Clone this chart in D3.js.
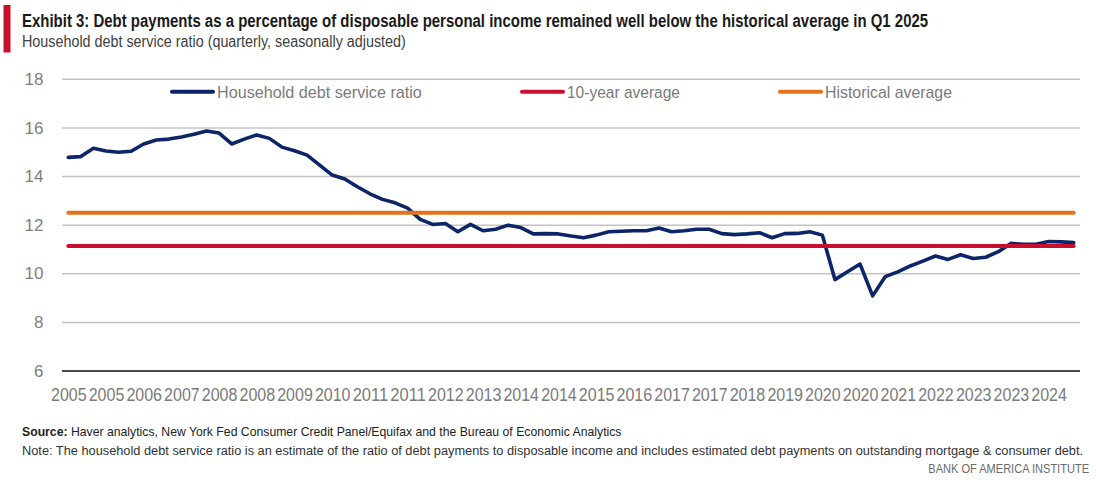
<!DOCTYPE html>
<html>
<head>
<meta charset="utf-8">
<script src="https://cdn.jsdelivr.net/npm/d3@7"></script>
<style>
  html, body { margin: 0; padding: 0; background: #fff; }
  svg { display: block; font-family: "Liberation Sans", Arial, sans-serif; }
</style>
</head>
<body>
<svg id="chart" width="1096" height="480"></svg>
<script>
// ---- Data ----
const startYear = 2005;
const quarters = [];
for (let i = 0; i < 81; i++) {
  quarters.push((startYear + Math.floor(i / 4)) + "Q" + (i % 4 + 1));
}
const debtServiceRatio = [
  14.79, 14.82, 15.16, 15.05, 15.00, 15.04, 15.34, 15.50, 15.54, 15.63,
  15.74, 15.87, 15.79, 15.34, 15.54, 15.71, 15.57, 15.21, 15.06, 14.88,
  14.47, 14.06, 13.90, 13.58, 13.29, 13.06, 12.92, 12.70, 12.24, 12.03,
  12.07, 11.73, 12.03, 11.77, 11.83, 12.00, 11.90, 11.64, 11.65, 11.64,
  11.55, 11.48, 11.59, 11.73, 11.75, 11.77, 11.77, 11.88, 11.73, 11.77,
  11.83, 11.83, 11.65, 11.61, 11.64, 11.69, 11.48, 11.65, 11.66, 11.73,
  11.59, 9.76, 10.08, 10.40, 9.09, 9.88, 10.08, 10.32, 10.52, 10.73,
  10.59, 10.78, 10.63, 10.68, 10.91, 11.25, 11.21, 11.21, 11.33, 11.31,
  11.28
];
const tenYearAverage = 11.14;
const historicalAverage = 12.51;
const xTickLabels = ["2005","2005","2006","2007","2008","2008","2009","2010","2011","2011",
  "2012","2013","2014","2014","2015","2016","2017","2017","2018","2019",
  "2020","2020","2021","2022","2023","2023","2024"];
const yTicks = [6, 8, 10, 12, 14, 16, 18];
const seriesNames = ["Household debt service ratio", "10-year average", "Historical average"];
const colors = { navy: "#0c2468", red: "#c8102e", orange: "#e4731c" };

(function () {
const svg = d3.select("#chart");
const plotLeft = 62, plotRight = 1080, plotTop = 79.3, plotBottom = 371;

const x = d3.scalePoint().domain(quarters).range([plotLeft, plotRight]).padding(0.5);
const y = d3.scaleLinear().domain([6, 18]).range([plotBottom, plotTop]);

// squeeze a text horizontally to a target width (condensed look)
function fit(sel, tx, ty, target) {
  sel.attr("x", 0).attr("y", 0);
  const w = sel.node().getComputedTextLength();
  const s = target / w;
  sel.attr("transform", `translate(${tx},${ty}) scale(${s},1)`);
}

// Title block
svg.append("rect").attr("x", 3.5).attr("y", 5).attr("width", 7).attr("height", 47.5).attr("fill", colors.red);
fit(svg.append("text").attr("font-size", 18.5).attr("font-weight", "bold").attr("fill", "#1a1a1a")
  .text("Exhibit 3: Debt payments as a percentage of disposable personal income remained well below the historical average in Q1 2025"),
  22, 26.8, 907);
fit(svg.append("text").attr("font-size", 15.8).attr("fill", "#404040")
  .text("Household debt service ratio (quarterly, seasonally adjusted)"), 22, 47.4, 384);

// Gridlines
svg.append("g").selectAll("line").data(yTicks.filter(d => d !== 6)).join("line")
  .attr("x1", plotLeft).attr("x2", plotRight)
  .attr("y1", d => y(d)).attr("y2", d => y(d))
  .attr("stroke", "#c4c4c4").attr("stroke-width", 1.5);

// Y labels
svg.append("g").selectAll("text").data(yTicks).join("text")
  .attr("x", 43.5).attr("y", d => y(d) + 5.6)
  .attr("text-anchor", "end").attr("font-size", 17).attr("fill", "#808080")
  .text(d => d);

// X axis
const xAxis = d3.axisBottom(x)
  .tickValues(xTickLabels.map((d, i) => quarters[i * 3]))
  .tickFormat((d, i) => xTickLabels[i])
  .tickSize(0).tickPadding(0);
const gx = svg.append("g").attr("transform", `translate(0,${plotBottom})`).call(xAxis);
gx.select(".domain").remove();
gx.selectAll("text")
  .attr("dy", null)
  .attr("font-size", 19).attr("fill", "#7a7a7a").attr("font-family", "Liberation Sans, Arial, sans-serif")
  .each(function () { fit(d3.select(this), 0, 29.6, 35.6); });
svg.append("line").attr("x1", plotLeft).attr("x2", plotRight).attr("y1", plotBottom).attr("y2", plotBottom)
  .attr("stroke", "#111").attr("stroke-width", 1.6);

// Series line
const line = d3.line().x((d, i) => x(quarters[i])).y(d => y(d));
svg.append("path").datum(debtServiceRatio)
  .attr("d", line).attr("fill", "none")
  .attr("stroke", colors.navy).attr("stroke-width", 3.6)
  .attr("stroke-linejoin", "round").attr("stroke-linecap", "round");

// Averages
const first = x(quarters[0]), last = x(quarters[quarters.length - 1]);
[[historicalAverage, colors.orange], [tenYearAverage, colors.red]].forEach(([v, c]) => {
  svg.append("line").attr("x1", first).attr("x2", last)
    .attr("y1", y(v)).attr("y2", y(v))
    .attr("stroke", c).attr("stroke-width", 4).attr("stroke-linecap", "round");
});

// Legend
const legend = [
  { name: seriesNames[0], color: colors.navy, x0: 172, tl: 205 },
  { name: seriesNames[1], color: colors.red, x0: 522, tl: 113 },
  { name: seriesNames[2], color: colors.orange, x0: 780, tl: 127 }
];
const lg = svg.append("g");
legend.forEach(l => {
  lg.append("line").attr("x1", l.x0).attr("x2", l.x0 + 41).attr("y1", 91.8).attr("y2", 91.8)
    .attr("stroke", l.color).attr("stroke-width", 4).attr("stroke-linecap", "round");
  fit(lg.append("text").attr("font-size", 17).attr("fill", "#7a7a7a").text(l.name), l.x0 + 45, 97.8, l.tl);
});

// Footer
const src = svg.append("text").attr("font-size", 12).attr("fill", "#222");
src.append("tspan").attr("font-weight", "bold").text("Source: ");
src.append("tspan").text("Haver analytics, New York Fed Consumer Credit Panel/Equifax and the Bureau of Economic Analytics");
fit(src, 22, 435.5, 600);
fit(svg.append("text").attr("font-size", 12).attr("fill", "#333")
  .text("Note: The household debt service ratio is an estimate of the ratio of debt payments to disposable income and includes estimated debt payments on outstanding mortgage & consumer debt."),
  22, 454.5, 1062);
fit(svg.append("text").attr("font-size", 12).attr("fill", "#6a6a6a").attr("text-anchor", "end")
  .text("BANK OF AMERICA INSTITUTE"), 1089, 472.5, 161);
})();
</script>
</body>
</html>
